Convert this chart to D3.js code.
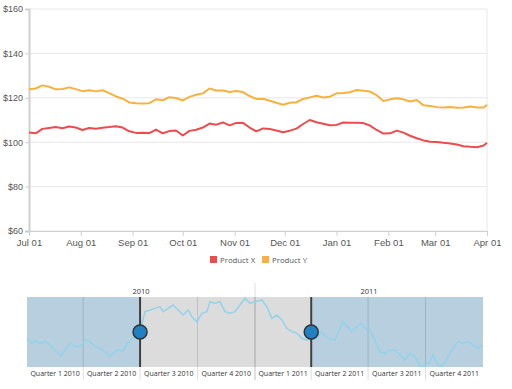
<!DOCTYPE html>
<html>
<head>
<meta charset="utf-8">
<script src="https://cdn.jsdelivr.net/npm/d3@7"></script>
<style>
  html, body { margin: 0; padding: 0; background: #fff; }
  svg { display: block; font-family: "Segoe UI", "Open Sans", "Noto Sans", sans-serif; }
</style>
</head>
<body>
<div id="chart"></div>
<script>
// days since Jul 01 2010, shared by both products
const dayOffsets = [0,4,8,12,16,20,24,28,32,36,40,44,48,52,56,60,64,68,72,76,80,84,88,92,96,100,
  104,108,112,116,120,124,128,132,136,140,144,148,152,156,160,164,168,172,176,180,184,188,192,196,
  200,204,208,212,216,220,224,228,232,236,240,244,248,252,256,260,264,268,272,274];

const productX = [104.4,104.0,106.0,106.4,106.8,106.3,107.1,106.6,105.5,106.4,106.1,106.5,106.8,107.2,
  106.6,104.9,104.2,104.3,104.1,105.7,104.0,105.0,105.3,103.0,105.1,105.6,106.6,108.4,107.9,108.9,
  107.6,108.7,108.7,106.6,104.9,106.2,105.9,105.3,104.5,105.2,106.1,108.2,110.0,109.0,108.3,107.6,
  107.8,108.9,108.8,108.8,108.6,107.5,105.5,103.9,104.0,105.2,104.3,102.9,101.8,100.8,100.2,100.1,
  99.7,99.4,99.0,98.2,97.9,97.7,98.5,99.8];

const productY = [123.8,124.2,125.6,125.0,123.8,124.0,124.7,123.9,123.0,123.4,122.9,123.4,122.1,120.6,
  119.6,117.9,117.5,117.4,117.6,119.3,118.9,120.3,119.9,118.8,120.4,121.4,122.0,124.2,123.3,123.3,
  122.6,123.1,122.6,120.8,119.5,119.6,118.7,117.8,116.9,117.8,118.0,119.5,120.2,120.9,120.1,120.5,
  122.0,122.2,122.5,123.5,123.2,122.8,121.2,118.6,119.3,119.8,119.3,118.3,119.0,116.6,116.3,115.8,
  115.6,115.9,115.5,115.6,116.1,115.6,115.6,116.8];

const seriesNames = ["Product X", "Product Y"];
const seriesColors = ["#ee4b4f", "#f8b13f"];
const yTicks = [60, 80, 100, 120, 140, 160];

// navigator series, days since Jan 01 2010
const navDays = [0,8,13,21,29,37,45,54,61,69,77,85,93,101,109,117,125,132,138,146,154,161,168,176,179,
  184,189,197,205,213,218,226,234,242,250,258,264,272,280,288,293,301,309,317,325,333,341,349,357,365,
  376,384,392,400,408,416,424,432,440,448,456,464,472,479,485,493,498,505,513,520,528,535,541,549,557,
  565,573,581,589,597,605,613,621,629,637,645,650,658,666,674,682,690,698,706,714,722,728];
const navValues = [96.4,93.5,95.4,93.5,94.5,92.6,89.7,86.3,89.7,93.5,92.0,91.6,95.4,94.5,91.6,90.7,88.7,
  86.3,87.8,89.7,89.3,93.5,96.4,97.3,98.3,105.0,111.6,112.6,113.5,114.5,111.6,113.5,115.4,112.6,109.7,
  112.6,108.7,105.9,110.7,111.6,117.3,116.4,117.3,111.6,110.7,111.6,115.4,119.3,116.4,117.3,118.3,114.5,
  107.8,109.7,106.9,102.1,100.2,99.3,96.4,95.4,95.8,96.4,100.2,97.3,95.8,95.4,99.3,105.9,103.0,100.2,
  103.0,105.0,102.1,101.1,95.4,88.7,87.8,89.7,89.7,86.9,84.0,87.8,85.9,80.6,80.6,83.0,86.9,80.6,81.1,
  85.9,90.7,94.5,93.5,94.5,92.6,90.7,92.6];

const mainStart = new Date(2010, 6, 1);
const mainEnd = new Date(2011, 3, 1);
const navStart = new Date(2010, 0, 1);
const navEnd = new Date(2012, 0, 1);
const selection = [new Date(2010, 6, 1), new Date(2011, 3, 1)];

const width = 512, height = 389;
const svg = d3.select("#chart").append("svg")
  .attr("width", width).attr("height", height);

// ---- main chart ----
const x = d3.scaleTime().domain([mainStart, mainEnd]).range([29, 487]);
const y = d3.scaleLinear().domain([60, 160]).range([231, 9]);

const grid = svg.append("g");
grid.selectAll("line").data(yTicks).join("line")
  .attr("x1", 29).attr("x2", 487)
  .attr("y1", d => y(d)).attr("y2", d => y(d))
  .attr("stroke", "#e8e8e8").attr("stroke-width", 1);
grid.append("line")
  .attr("x1", 487).attr("x2", 487).attr("y1", y(160)).attr("y2", y(60))
  .attr("stroke", "#e8e8e8");

const yAxis = svg.append("g").attr("transform", "translate(29,0)")
  .call(d3.axisLeft(y).tickValues(yTicks).tickSize(4).tickPadding(2).tickFormat(d => "$" + d));
yAxis.select(".domain").attr("stroke", "#cfcfcf").attr("stroke-width", 2);
yAxis.selectAll(".tick line").attr("stroke", "#cfcfcf");
yAxis.selectAll("text").attr("fill", "#555").style("font-size", "9px");

const xAxis = svg.append("g").attr("transform", "translate(0,231)")
  .call(d3.axisBottom(x).ticks(d3.timeMonth.every(1)).tickSize(5).tickPadding(3)
    .tickFormat(d3.timeFormat("%b %d")));
xAxis.select(".domain").attr("stroke", "#cfcfcf");
xAxis.selectAll(".tick line").attr("stroke", "#cfcfcf");
xAxis.selectAll("text").attr("fill", "#555").style("font-size", "9.5px");

const line = d3.line()
  .x((d, i) => x(d3.timeDay.offset(mainStart, dayOffsets[i])))
  .y(d => y(d));

[productX, productY].forEach((vals, k) => {
  svg.append("path").datum(vals)
    .attr("d", line)
    .attr("fill", "none")
    .attr("stroke", seriesColors[k])
    .attr("stroke-width", 2)
    .attr("stroke-linejoin", "round");
});

// legend
const legend = svg.append("g").attr("transform", "translate(210,260)");
seriesNames.forEach((name, k) => {
  const g = legend.append("g").attr("transform", `translate(${k * 52},0)`);
  g.append("rect").attr("x", 0).attr("y", -4).attr("width", 7).attr("height", 7)
    .attr("fill", seriesColors[k]);
  g.append("text").attr("x", 10).attr("y", 3)
    .attr("fill", "#555").style("font-size", "7.8px").text(name);
});

// ---- range navigator ----
const nx = d3.scaleTime().domain([navStart, navEnd]).range([27, 483]);
const ny = d3.scaleLinear().domain([80, 120]).range([367, 297]);
const navTop = 297, navBottom = 367, labelBottom = 380;

const nav = svg.append("g");
nav.append("rect")
  .attr("x", nx(navStart)).attr("y", navTop)
  .attr("width", nx(navEnd) - nx(navStart)).attr("height", navBottom - navTop)
  .attr("fill", "#dcdcdc");
nav.append("rect")
  .attr("x", nx(navStart)).attr("y", navTop)
  .attr("width", nx(selection[0]) - nx(navStart)).attr("height", navBottom - navTop)
  .attr("fill", "#b7cfde");
nav.append("rect")
  .attr("x", nx(selection[1])).attr("y", navTop)
  .attr("width", nx(navEnd) - nx(selection[1])).attr("height", navBottom - navTop)
  .attr("fill", "#b7cfde");

const quarters = d3.timeMonth.every(3).range(navStart, navEnd);
nav.selectAll("line.q").data(quarters.slice(1)).join("line")
  .attr("class", "q")
  .attr("x1", d => nx(d)).attr("x2", d => nx(d))
  .attr("y1", navTop).attr("y2", labelBottom)
  .attr("stroke", "rgba(0,0,0,0.13)");

const years = d3.timeYear.range(navStart, navEnd);
nav.selectAll("line.yr").data(years.slice(1)).join("line")
  .attr("class", "yr")
  .attr("x1", d => nx(d)).attr("x2", d => nx(d))
  .attr("y1", 283).attr("y2", labelBottom)
  .attr("stroke", "rgba(0,0,0,0.13)");

nav.append("path")
  .datum(navValues)
  .attr("d", d3.line()
    .x((d, i) => nx(d3.timeDay.offset(navStart, navDays[i])))
    .y(d => ny(d)))
  .attr("fill", "none")
  .attr("stroke", "#91d3ea")
  .attr("stroke-width", 1.5);

nav.selectAll("text.q").data(quarters).join("text")
  .attr("class", "q")
  .attr("x", d => (nx(d) + nx(d3.timeMonth.offset(d, 3))) / 2)
  .attr("y", 376)
  .attr("text-anchor", "middle")
  .attr("fill", "#333").style("font-size", "7px")
  .text(d => `Quarter ${Math.floor(d.getMonth() / 3) + 1} ${d.getFullYear()}`);

nav.selectAll("text.yr").data(years).join("text")
  .attr("class", "yr")
  .attr("x", d => (nx(d) + nx(d3.timeYear.offset(d, 1))) / 2)
  .attr("y", 294)
  .attr("text-anchor", "middle")
  .attr("fill", "#333").style("font-size", "7.5px")
  .text(d => d.getFullYear());

// thumbs
selection.forEach(d => {
  nav.append("line")
    .attr("x1", nx(d)).attr("x2", nx(d)).attr("y1", navTop).attr("y2", navBottom)
    .attr("stroke", "#404040").attr("stroke-width", 2);
  nav.append("circle")
    .attr("cx", nx(d)).attr("cy", (navTop + navBottom) / 2).attr("r", 7)
    .attr("fill", "#2180c4").attr("stroke", "#333").attr("stroke-width", 1.5);
});
</script>
</body>
</html>
